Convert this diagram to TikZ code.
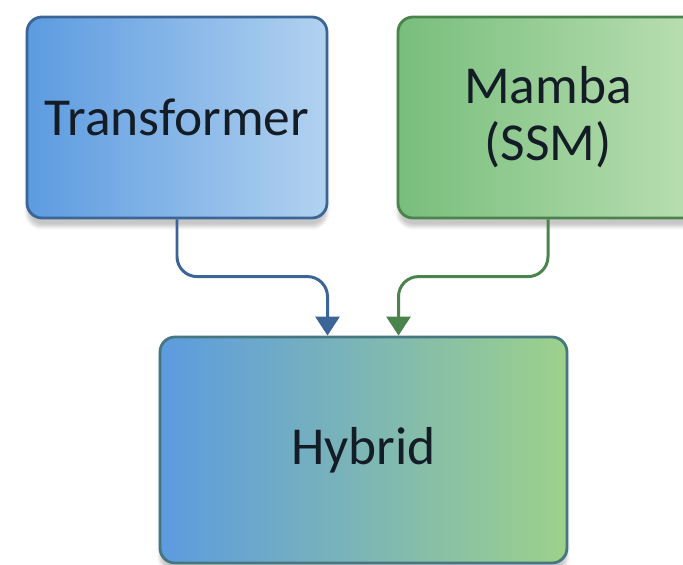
\documentclass[tikz,border=0pt]{standalone}
\usepackage{fontspec}
\setmainfont{Carlito}
\usepackage{tikz}
\usetikzlibrary{positioning,arrows.meta,shadows.blur}

\definecolor{tfdark}{HTML}{3A6596}
\definecolor{tfleft}{HTML}{5C9BE0}
\definecolor{tfright}{HTML}{B2D2F0}
\definecolor{mbdark}{HTML}{4A844C}
\definecolor{mbleft}{HTML}{78BE7C}
\definecolor{mbright}{HTML}{BADFB2}
\definecolor{hyright}{HTML}{9DD18A}
\definecolor{hyborder}{HTML}{467780}
\definecolor{ink}{HTML}{141C26}

\begin{document}
\begin{tikzpicture}[
	box/.style = { rounded corners=0.3cm, line width=1.6pt, inner sep=0pt,
		text=ink, font=\fontsize{30.4}{32.4}\selectfont, align=center,
		blur shadow={shadow xshift=0pt, shadow yshift=-5pt, shadow opacity=22, shadow blur steps=6} },
	model/.style = { box, minimum width=6cm, minimum height=4.02cm },
	link/.style = { line width=1.7pt, rounded corners=0.4cm, -{Triangle[width=0.48cm,length=0.38cm]} }]

  \useasboundingbox (0,0) rectangle (13.66,-11.30);

  \node[model, draw=tfdark, left color=tfleft, right color=tfright]
    (trans) at (3.54,-2.35) {Transformer};
  \node[model, draw=mbdark, left color=mbleft, right color=mbright]
    (mamba) at (10.96,-2.35) {Mamba\\(SSM)};
  \node[box, draw=hyborder, left color=tfleft, right color=hyright,
    minimum width=8.14cm, minimum height=4.52cm]
    (hybrid) at (7.27,-9.0) {Hybrid};

  % both inputs bend in towards the top of the hybrid box
  \draw[link, tfdark] (trans.south) |- ([xshift=-0.72cm, yshift=1.18cm]hybrid.north)
    -- ([xshift=-0.72cm]hybrid.north);
  \draw[link, mbdark] (mamba.south) |- ([xshift=0.70cm, yshift=1.18cm]hybrid.north)
    -- ([xshift=0.70cm]hybrid.north);
\end{tikzpicture}
\end{document}
